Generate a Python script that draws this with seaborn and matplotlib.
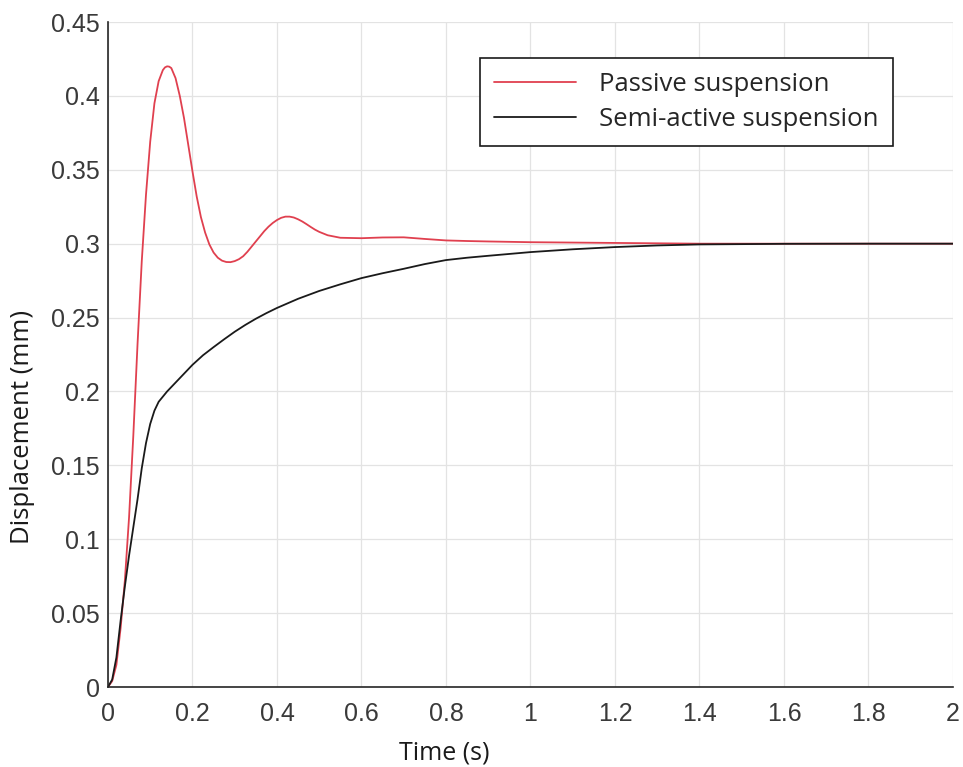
import numpy as np
import pandas as pd
import matplotlib
matplotlib.use("Agg")
import matplotlib.pyplot as plt
import seaborn as sns

# values
t_passive = [0, 0.01, 0.02, 0.03, 0.04, 0.05, 0.06, 0.07, 0.08, 0.09, 0.10, 0.11,
             0.12, 0.13, 0.135, 0.14, 0.145, 0.15, 0.16, 0.17, 0.18, 0.19, 0.20, 0.21,
             0.22, 0.23, 0.24, 0.25, 0.26, 0.27, 0.28, 0.29, 0.30, 0.31, 0.32, 0.33,
             0.34, 0.35, 0.36, 0.37, 0.38, 0.39, 0.40, 0.41, 0.42, 0.43, 0.44, 0.45,
             0.46, 0.47, 0.48, 0.49, 0.50, 0.52, 0.55, 0.60, 0.65, 0.70, 0.75, 0.80,
             0.85, 0.90, 1.00, 1.20, 1.40, 1.60, 1.80, 2.00]
y_passive = [0, 0.004, 0.015, 0.04, 0.072, 0.115, 0.17, 0.232, 0.288, 0.333, 0.369, 0.395,
             0.410, 0.4175, 0.4193, 0.4200, 0.4198, 0.4188, 0.412, 0.400, 0.385, 0.367, 0.349, 0.332,
             0.318, 0.3075, 0.2995, 0.294, 0.2905, 0.2885, 0.2876, 0.2875, 0.2882, 0.2895, 0.2915, 0.2945,
             0.298, 0.3015, 0.305, 0.3085, 0.3115, 0.314, 0.316, 0.3175, 0.3183, 0.3183, 0.3177, 0.3165,
             0.315, 0.3132, 0.3113, 0.3095, 0.308, 0.3057, 0.304, 0.3037, 0.3042, 0.3043, 0.3032, 0.3022,
             0.3018, 0.3015, 0.301, 0.3005, 0.300, 0.300, 0.300, 0.300]

t_semi = [0, 0.01, 0.02, 0.03, 0.04, 0.05, 0.06, 0.07, 0.08, 0.09, 0.10, 0.11, 0.12,
          0.14, 0.16, 0.18, 0.20, 0.225, 0.25, 0.275, 0.30, 0.325, 0.35, 0.375, 0.40,
          0.45, 0.50, 0.55, 0.60, 0.65, 0.70, 0.75, 0.80, 0.85, 0.90, 1.00, 1.10,
          1.20, 1.30, 1.40, 1.60, 1.80, 2.00]
y_semi = [0, 0.005, 0.02, 0.045, 0.068, 0.089, 0.108, 0.127, 0.148, 0.165, 0.178, 0.187, 0.193,
          0.200, 0.206, 0.212, 0.218, 0.2245, 0.230, 0.2353, 0.2404, 0.245, 0.2492, 0.253, 0.2565,
          0.2627, 0.268, 0.2725, 0.2767, 0.280, 0.283, 0.2862, 0.2889, 0.2905, 0.2918, 0.2943, 0.2962,
          0.2977, 0.2988, 0.2995, 0.2999, 0.300, 0.300]

labels = ["Passive suspension", "Semi-active suspension"]
colors = ["#e0404f", "#1a1a1a"]
xtick_labels = ["0", "0.2", "0.4", "0.6", "0.8", "1", "1.2", "1.4", "1.6", "1.8", "2"]
ytick_labels = ["0", "0.05", "0.1", "0.15", "0.2", "0.25", "0.3", "0.35", "0.4", "0.45"]

df = pd.concat([
    pd.DataFrame({"t": t_passive, "y": y_passive, "series": labels[0]}),
    pd.DataFrame({"t": t_semi, "y": y_semi, "series": labels[1]}),
])

sns.set_style("white")
plt.rcParams['font.family'] = ['Liberation Sans', 'DejaVu Sans']

fig = plt.figure(figsize=(9.63, 7.67), dpi=100)
ax = fig.add_axes([0.1121, 0.1043, 0.8775, 0.867])

sns.lineplot(data=df, x="t", y="y", hue="series", palette=colors, linewidth=1.3,
             sort=False, estimator=None, ax=ax)

ax.set_xlim(0, 2)
ax.set_ylim(0, 0.45)
ax.set_xticks(np.arange(0, 2.01, 0.2))
ax.set_xticklabels(xtick_labels)
ax.set_yticks(np.arange(0, 0.451, 0.05))
ax.set_yticklabels(ytick_labels)
ax.grid(True, color="#e3e3e3", linewidth=0.9)
ax.tick_params(direction="in", length=5, width=1, colors="#262626", labelsize=18,
               labelcolor="#3a3a3a")
ax.tick_params(axis="x", pad=11)
ax.tick_params(axis="y", pad=6)

for side in ["top", "right"]:
    ax.spines[side].set_visible(False)
for side in ["left", "bottom"]:
    ax.spines[side].set_color("#262626")
    ax.spines[side].set_linewidth(1.2)

ax.set_xlabel("Time (s)", family="Open Sans", fontsize=18, color="#1a1a1a")
ax.set_ylabel("Displacement (mm)", family="Open Sans", fontsize=18.5, color="#1a1a1a")
ax.xaxis.set_label_coords(0.398, -0.081)
ax.yaxis.set_label_coords(-0.086, 0.391)

leg = ax.legend(loc="upper right", bbox_to_anchor=(0.929, 0.946), borderaxespad=0,
                frameon=True, fancybox=False, prop={"family": "Open Sans", "size": 18.5},
                handlelength=3.2, handletextpad=0.9, borderpad=0.55, labelspacing=0.4)
leg.get_frame().set_edgecolor("#1a1a1a")
leg.get_frame().set_linewidth(1.2)
leg.get_frame().set_alpha(1)

fig.savefig("out.png", dpi=100)
